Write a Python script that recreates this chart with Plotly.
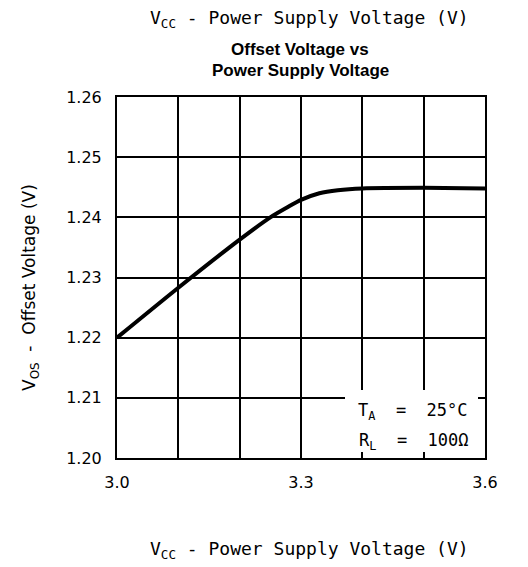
import plotly.graph_objects as go

# Data
vcc = [3.00, 3.10, 3.20, 3.25, 3.28, 3.30, 3.33, 3.36, 3.40, 3.50, 3.60]
vos = [1.2200, 1.2283, 1.2363, 1.2400, 1.2418, 1.2429, 1.2440, 1.2445, 1.2448, 1.2449, 1.2448]

x_tickvals = [3.0, 3.1, 3.2, 3.3, 3.4, 3.5, 3.6]
x_ticktext = ["3.0", "", "", "3.3", "", "", "3.6"]
y_tickvals = [1.20, 1.21, 1.22, 1.23, 1.24, 1.25, 1.26]
y_ticktext = ["1.20", "1.21", "1.22", "1.23", "1.24", "1.25", "1.26"]

# page has an 8px body margin, so figure coords = screen coords - 8
W, H = 520, 559
L, R, T, B = 109, 477, 89, 450

def pxx(xp):
    return (xp - L) / (R - L)

def pyy(yp):
    return (B - yp) / (B - T)

SANS = "DejaVu Sans"
MONO = "DejaVu Sans Mono"

fig = go.Figure()
fig.add_trace(go.Scatter(x=vcc, y=vos, mode="lines",
                         line=dict(color="black", width=4, shape="spline", smoothing=0.6),
                         hoverinfo="skip", showlegend=False))

fig.update_layout(
    width=W, height=H,
    margin=dict(l=L, r=W - R, t=T, b=H - B),
    paper_bgcolor="white", plot_bgcolor="white",
    font=dict(family=SANS, color="black", size=16),
    showlegend=False,
)
fig.update_xaxes(range=[3.0, 3.6], tickvals=x_tickvals, ticktext=x_ticktext,
                 showgrid=True, gridcolor="black", gridwidth=1.5,
                 showline=True, linecolor="black", linewidth=2, mirror=True,
                 ticks="", ticklabelstandoff=9, zeroline=False,
                 tickfont=dict(family=SANS, size=16))
fig.update_yaxes(range=[1.20, 1.26], tickvals=y_tickvals, ticktext=y_ticktext,
                 showgrid=True, gridcolor="black", gridwidth=1.5,
                 showline=True, linecolor="black", linewidth=2, mirror=True,
                 ticks="", ticklabelstandoff=10, zeroline=False,
                 tickfont=dict(family=SANS, size=16))

# white box behind the conditions text
fig.add_shape(type="rect", xref="paper", yref="paper",
              x0=pxx(337), x1=pxx(470), y0=pyy(444), y1=pyy(382),
              fillcolor="white", line=dict(width=0), layer="above")

ann = []
ann.append(dict(text="V<sub>CC</sub> - Power Supply Voltage (V)", x=pxx(301), y=pyy(11),
                font=dict(family=MONO, size=18)))
ann.append(dict(text="<b>Offset Voltage vs</b>", x=pxx(292), y=pyy(42),
                font=dict(family="Liberation Sans", size=17)))
ann.append(dict(text="<b>Power Supply Voltage</b>", x=pxx(292), y=pyy(62),
                font=dict(family="Liberation Sans", size=17)))
ann.append(dict(text="V<sub>CC</sub> - Power Supply Voltage (V)", x=pxx(301), y=pyy(542),
                font=dict(family=MONO, size=18)))
ann.append(dict(text="V<sub>OS</sub>  -  Offset Voltage (V)", x=pxx(22), y=pyy(280),
                textangle=-90, font=dict(family=SANS, size=17)))
ann.append(dict(text="T<sub>A</sub>  =  25°C", x=pxx(405), y=pyy(403),
                font=dict(family=MONO, size=17)))
ann.append(dict(text="R<sub>L</sub>  =  100Ω", x=pxx(406), y=pyy(433),
                font=dict(family=MONO, size=17)))
for a in ann:
    a.update(xref="paper", yref="paper", showarrow=False, xanchor="center", yanchor="middle")
    fig.add_annotation(**a)

fig.write_html("out.html")
